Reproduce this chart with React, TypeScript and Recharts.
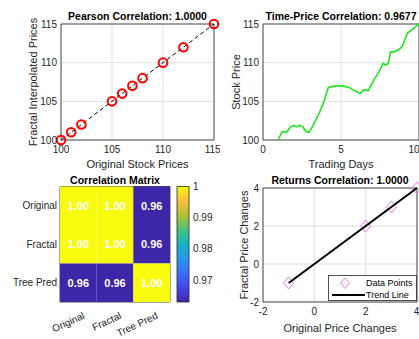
import React from 'react';
import {
  CartesianGrid,
  ComposedChart,
  Legend,
  Line,
  LineChart,
  ReferenceArea,
  Scatter,
  ScatterChart,
  XAxis,
  YAxis,
} from 'recharts';

// Pearson panel
const originalPrices = [100, 101, 102, 105, 106, 107, 108, 110, 112, 115];
const fractalPrices = [100, 101, 102, 105, 106, 107, 108, 110, 112, 115];
const priceTicks = [100, 105, 110, 115];

// Time-price panel
const tradingDays = [
  0.96, 1.24, 1.5, 1.77, 1.99, 2.14, 2.35, 2.56, 2.74, 2.95, 3.16, 3.59, 3.91, 4.19, 4.4, 4.66, 5.09,
  5.51, 5.94, 6.22, 6.47, 6.75, 7.12, 7.44, 7.69, 7.86, 8.03, 8.18, 8.4, 8.72, 8.93, 9.25, 9.57, 10,
];
const stockPrices = [
  100, 101.1, 101, 101.7, 101.9, 101.7, 101.9, 101.7, 101.1, 101, 101.7, 103.4, 105, 106.8, 106.9, 107,
  107, 106.8, 106.3, 106, 106.5, 106.4, 107.8, 108.8, 109.9, 109.7, 109.9, 111.4, 111.4, 111.7, 112.1,
  113.8, 114.3, 115,
];
const dayTicks = [0, 5, 10];

// Correlation matrix
const matrixLabels = ['Original', 'Fractal', 'Tree Pred'];
const corrOriginal = [1.0, 1.0, 0.963];
const corrFractal = [1.0, 1.0, 0.963];
const corrTreePred = [0.963, 0.963, 1.0];
const colorbarTicks = [0.97, 0.98, 0.99, 1];

// Returns panel
const originalChanges = [-1, 2, 3, 4];
const fractalChanges = [-1, 2, 3, 4];
const trendX = [-1, 4];
const trendY = [-1, 4];
const returnTicks = [-2, 0, 2, 4];

const FONT = '"Liberation Sans", Arial, Helvetica, sans-serif';
const AXIS = '#262626';
const GRID = '#dfdfdf';
const tickStyle = { fontSize: 10, fill: AXIS };

const parulaStops: [number, string][] = [
  [0, '#3e26a8'],
  [0.125, '#4646ec'],
  [0.25, '#3b6efd'],
  [0.375, '#2797ea'],
  [0.5, '#14b4c4'],
  [0.625, '#49c37c'],
  [0.75, '#b0c234'],
  [0.875, '#fcbd3b'],
  [1, '#f9fb0e'],
];

const hex = (c: string) => [1, 3, 5].map((i) => parseInt(c.slice(i, i + 2), 16));

const parula = (t: number) => {
  const v = Math.max(0, Math.min(1, t));
  for (let i = 1; i < parulaStops.length; i++) {
    const [t1, c1] = parulaStops[i];
    const [t0, c0] = parulaStops[i - 1];
    if (v <= t1) {
      const f = (v - t0) / (t1 - t0);
      const a = hex(c0);
      const b = hex(c1);
      const rgb = a.map((x, k) => Math.round(x + (b[k] - x) * f));
      return `rgb(${rgb.join(',')})`;
    }
  }
  return parulaStops[parulaStops.length - 1][1];
};

const titleLabel = (value: string, offset = 4) => ({
  value,
  position: 'top' as const,
  offset,
  fontSize: 10.5,
  fontWeight: 'bold',
  fill: '#000',
});

const PearsonChart = () => {
  const points = originalPrices.map((x, i) => ({ x, y: fractalPrices[i] }));
  const fit = [
    { x: originalPrices[0], y: fractalPrices[0] },
    { x: originalPrices[originalPrices.length - 1], y: fractalPrices[fractalPrices.length - 1] },
  ];
  return (
    <ScatterChart width={220} height={175} margin={{ top: 24, right: 6, bottom: 0, left: 5 }}>
      <CartesianGrid stroke={GRID} />
      <XAxis
        type="number"
        dataKey="x"
        domain={[100, 115]}
        ticks={priceTicks}
        tick={tickStyle}
        tickLine={false}
        axisLine={false}
        tickSize={0}
        tickMargin={6}
        height={35}
        label={{ value: 'Original Stock Prices', position: 'insideBottom', offset: 7, fontSize: 11, fill: AXIS }}
      />
      <YAxis
        type="number"
        dataKey="y"
        domain={[100, 115]}
        ticks={priceTicks}
        tick={tickStyle}
        tickLine={false}
        axisLine={false}
        tickSize={0}
        tickMargin={4}
        width={56}
        label={{ value: 'Fractal Interpolated Prices', angle: -90, position: 'center', fontSize: 11, fill: AXIS }}
      />
      <ReferenceArea
        x1={100}
        x2={115}
        y1={100}
        y2={115}
        fill="none"
        stroke={AXIS}
        strokeWidth={0.8}
        label={titleLabel('Pearson Correlation: 1.0000')}
      />
      <Scatter
        data={fit}
        line={{ stroke: '#000', strokeWidth: 1, strokeDasharray: '4 3' }}
        shape={() => <g />}
        isAnimationActive={false}
      />
      <Scatter
        data={points}
        shape={(p: any) => <circle cx={p.cx} cy={p.cy} r={4.3} fill="none" stroke="#ff0000" strokeWidth={2} />}
        isAnimationActive={false}
      />
    </ScatterChart>
  );
};

const TimePriceChart = () => {
  const data = tradingDays.map((day, i) => ({ day, price: stockPrices[i] }));
  return (
    <LineChart width={210} height={175} data={data} margin={{ top: 24, right: 0, bottom: 0, left: 0 }}>
      <CartesianGrid stroke={GRID} />
      <XAxis
        type="number"
        dataKey="day"
        domain={[0, 10]}
        ticks={dayTicks}
        tick={tickStyle}
        tickLine={false}
        axisLine={false}
        tickSize={0}
        tickMargin={6}
        height={35}
        label={{ value: 'Trading Days', position: 'insideBottom', offset: 7, fontSize: 11, fill: AXIS }}
      />
      <YAxis
        type="number"
        domain={[100, 115]}
        ticks={priceTicks}
        tick={tickStyle}
        tickLine={false}
        axisLine={false}
        tickSize={0}
        tickMargin={4}
        width={54}
        label={{ value: 'Stock Price', angle: -90, position: 'center', fontSize: 11, fill: AXIS }}
      />
      <ReferenceArea
        x1={0}
        x2={10}
        y1={100}
        y2={115}
        fill="none"
        stroke={AXIS}
        strokeWidth={0.8}
        label={titleLabel('Time-Price Correlation: 0.9677')}
      />
      <Line type="linear" dataKey="price" stroke="#1ee61e" strokeWidth={1.6} dot={false} isAnimationActive={false} />
    </LineChart>
  );
};

const HEAT_W = 110;
const HEAT_H = 115.5;

const CorrelationMatrix = () => {
  const rows = [corrOriginal, corrFractal, corrTreePred];
  const minCorr = Math.min(...rows.flat());
  const cells = rows.flatMap((r, ri) => r.map((value, ci) => ({ col: ci + 1, row: ri + 1, value })));
  const cw = HEAT_W / 3;
  const ch = HEAT_H / 3;
  return (
    <ScatterChart width={175} height={174} margin={{ top: 21.5, right: 5, bottom: 0, left: 0 }}>
      <XAxis
        type="number"
        dataKey="col"
        domain={[0.5, 3.5]}
        ticks={[1, 2, 3]}
        tickLine={false}
        axisLine={false}
        tickSize={0}
        tickMargin={0}
        height={37}
        tick={(p: any) => (
          <text
            x={p.x + 7}
            y={p.y + 16}
            transform={`rotate(-25, ${p.x + 7}, ${p.y + 16})`}
            textAnchor="end"
            fontSize={10}
            fill={AXIS}
          >
            {matrixLabels[p.payload.value - 1]}
          </text>
        )}
      />
      <YAxis
        type="number"
        dataKey="row"
        domain={[0.5, 3.5]}
        reversed
        ticks={[1, 2, 3]}
        tickLine={false}
        axisLine={false}
        tickSize={0}
        tickMargin={3}
        width={60}
        tick={(p: any) => (
          <text x={p.x} y={p.y} textAnchor="end" dominantBaseline="central" fontSize={10} fill={AXIS}>
            {matrixLabels[p.payload.value - 1]}
          </text>
        )}
      />
      <Scatter
        data={cells}
        isAnimationActive={false}
        shape={(p: any) => (
          <g>
            <rect
              x={p.cx - cw / 2}
              y={p.cy - ch / 2}
              width={cw}
              height={ch}
              fill={parula((p.payload.value - minCorr) / (1 - minCorr))}
            />
            <text
              x={p.cx}
              y={p.cy}
              textAnchor="middle"
              dominantBaseline="central"
              fontSize={11}
              fontWeight="bold"
              fill="#fff"
            >
              {p.payload.value.toFixed(2)}
            </text>
          </g>
        )}
      />
      <ReferenceArea
        x1={0.5}
        x2={3.5}
        y1={0.5}
        y2={3.5}
        fill="none"
        stroke={AXIS}
        strokeWidth={0.8}
        label={titleLabel('Correlation Matrix', 3)}
      />
    </ScatterChart>
  );
};

const ColorBar = () => {
  const rows = [corrOriginal, corrFractal, corrTreePred];
  const minCorr = Math.min(...rows.flat());
  const steps = parulaStops.map(([t]) => t);
  return (
    <ComposedChart width={45} height={174} data={[{ x: 0 }, { x: 1 }]} margin={{ top: 21.5, right: 0, bottom: 37, left: 7 }}>
      <defs>
        <linearGradient id="parulaBar" x1="0" y1="1" x2="0" y2="0">
          {steps.map((t) => (
            <stop key={t} offset={t} stopColor={parula(t)} />
          ))}
        </linearGradient>
      </defs>
      <XAxis type="number" dataKey="x" domain={[0, 1]} hide />
      <YAxis
        orientation="right"
        type="number"
        domain={[minCorr, 1]}
        ticks={colorbarTicks}
        tickFormatter={(v: number) => (v === 1 ? '1' : v.toFixed(2))}
        tick={tickStyle}
        tickLine={false}
        axisLine={false}
        tickSize={0}
        tickMargin={4}
        width={26}
        allowDataOverflow
      />
      <ReferenceArea x1={0} x2={1} y1={minCorr} y2={1} fill="url(#parulaBar)" fillOpacity={1} stroke={AXIS} strokeWidth={0.8} />
    </ComposedChart>
  );
};

const ReturnsLegend = () => (
  <svg width={89} height={26} style={{ display: 'block', fontFamily: FONT }}>
    <rect x={0.5} y={0.5} width={88} height={25} fill="#fff" stroke={AXIS} strokeWidth={0.8} />
    <polygon points="17,3 21.5,8 17,13.5 12.5,8" fill="none" stroke="#e580e8" strokeWidth={1} />
    <text x={38} y={8} dominantBaseline="central" fontSize={9} fill="#000">
      Data Points
    </text>
    <line x1={4} y1={20} x2={37} y2={20} stroke="#000" strokeWidth={2} />
    <text x={38} y={20} dominantBaseline="central" fontSize={9} fill="#000">
      Trend Line
    </text>
  </svg>
);

const ReturnsChart = () => {
  const points = originalChanges.map((x, i) => ({ x, y: fractalChanges[i] }));
  const trend = trendX.map((x, i) => ({ x, y: trendY[i] }));
  return (
    <ScatterChart width={210} height={174} margin={{ top: 23, right: 2, bottom: 0, left: 17 }}>
      <CartesianGrid stroke={GRID} />
      <XAxis
        type="number"
        dataKey="x"
        domain={[-2, 4]}
        ticks={returnTicks}
        tick={tickStyle}
        tickLine={false}
        axisLine={false}
        tickSize={0}
        tickMargin={6}
        height={37}
        label={{ value: 'Original Price Changes', position: 'insideBottom', offset: 7, fontSize: 11, fill: AXIS }}
      />
      <YAxis
        type="number"
        dataKey="y"
        domain={[-2, 4]}
        ticks={returnTicks}
        tick={tickStyle}
        tickLine={false}
        axisLine={false}
        tickSize={0}
        tickMargin={4}
        width={37}
        label={{ value: 'Fractal Price Changes', angle: -90, position: 'center', fontSize: 11, fill: AXIS }}
      />
      <ReferenceArea
        x1={-2}
        x2={4}
        y1={-2}
        y2={4}
        fill="none"
        stroke={AXIS}
        strokeWidth={0.8}
        label={titleLabel('Returns Correlation: 1.0000')}
      />
      <Scatter
        name="Data Points"
        data={points}
        isAnimationActive={false}
        shape={(p: any) => (
          <polygon
            points={`${p.cx},${p.cy - 6} ${p.cx + 5},${p.cy} ${p.cx},${p.cy + 6} ${p.cx - 5},${p.cy}`}
            fill="none"
            stroke="#e580e8"
            strokeWidth={1}
          />
        )}
      />
      <Scatter
        name="Trend Line"
        data={trend}
        line={{ stroke: '#000', strokeWidth: 2 }}
        shape={() => <g />}
        isAnimationActive={false}
      />
      <Legend
        layout="vertical"
        align="center"
        verticalAlign="middle"
        wrapperStyle={{ left: 119, top: 110, width: 89, height: 26 }}
        content={() => <ReturnsLegend />}
      />
    </ScatterChart>
  );
};

const App = () => (
  <div
    style={{
      position: 'absolute',
      left: 0,
      top: 0,
      width: 419,
      height: 339,
      background: '#fff',
      overflow: 'hidden',
      fontFamily: FONT,
    }}
  >
    <div style={{ position: 'absolute', left: 0, top: 0 }}>
      <PearsonChart />
    </div>
    <div style={{ position: 'absolute', left: 209, top: 0 }}>
      <TimePriceChart />
    </div>
    <div style={{ position: 'absolute', left: 0, top: 165 }}>
      <CorrelationMatrix />
    </div>
    <div style={{ position: 'absolute', left: 170, top: 165 }}>
      <ColorBar />
    </div>
    <div style={{ position: 'absolute', left: 209, top: 165 }}>
      <ReturnsChart />
    </div>
  </div>
);

export default App;
